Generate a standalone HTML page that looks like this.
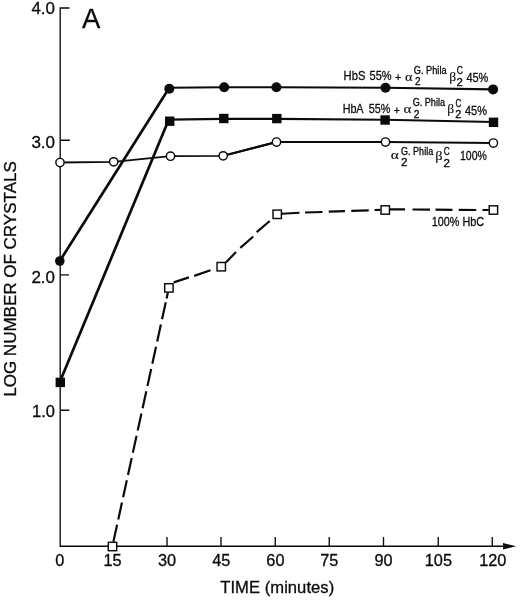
<!DOCTYPE html>
<html><head><meta charset="utf-8"><title>Figure A</title>
<style>
html,body{margin:0;padding:0;background:#fff;}
svg{display:block;}
text{font-family:"Liberation Sans",sans-serif;fill:#0b0b0b;stroke:#0b0b0b;stroke-width:0.3px;}
text.gk{font-family:"Liberation Serif","DejaVu Serif",serif;stroke-width:0.12px;}
</style></head><body>
<svg width="520" height="600" viewBox="0 0 520 600">
<rect width="520" height="600" fill="#fff"/>
<g stroke="#0b0b0b" stroke-width="1.35" fill="none">
<path d="M69.500 8H60.200V546.200H505"/>
<path d="M60 140.200H69.800M60 274.900H69M60 410.200H69.300"/>
<path d="M167 537V546.200M221 537V546.200M275.25 537V546.200M329.25 537V546.200M383.5 537V546.200M438.25 537V546.200M492.25 537V546.200"/>
</g>
<path d="M503 542.900L516.300 546.200L503 549.500Z" fill="#0b0b0b"/>
<g fill="none" stroke="#0b0b0b" stroke-linejoin="round">
<path d="M59.8 261L169.3 87.7" stroke-width="2.7"/>
<path d="M169.3 87.7L224.2 87.2L276.4 87.2L385.5 87.7L493.1 89.4" stroke-width="2.1"/>
<path d="M59.6 382.4L168.8 119.6" stroke-width="2.7"/>
<path d="M168.8 119.6L223.8 118.9L276.8 118.9L385.1 119.8L493.5 122" stroke-width="2.1"/>
<path d="M60 162.5L113.7 161.8L170.5 156.2L223.2 155.8L276.5 142L385.5 142L493.4 143" stroke-width="1.85"/>
<path d="M223.2 155.8L276.5 142" stroke-width="2.2"/>
</g>
<path fill="none" stroke="#0b0b0b" stroke-width="2.2" d="M167.90 292.50L166.59 298.50M165.76 302.30L162.04 319.30M160.89 324.55L157.17 341.55M156.03 346.80L152.31 363.80M151.16 369.05L147.44 386.05M146.30 391.30L142.58 408.30M141.43 413.55L137.71 430.55M136.57 435.80L132.85 452.80M131.70 458.05L127.98 475.05M126.84 480.30L123.12 497.30M121.97 502.55L118.25 519.55M117.11 524.80L113.40 541.75M173.70 282.40L188.90 277.40M194.20 275.90L210.50 270.20M225.90 262.50L236.00 252.10M240.30 247.80L253.30 236.50M256.70 232.20L269.70 221.00M281.75 213.75L299.50 212.75M305.00 212.50L322.50 212.00M328.75 211.70L345.00 211.20M351.25 210.80L368.75 210.30M374.50 210.00L380.50 209.80M390.00 209.30L405.00 209.40M412.50 209.50L430.00 209.60M435.50 209.70L452.50 209.80M458.75 209.90L476.25 210.00M482.50 210.00L488.75 210.00"/>
<g fill="#0b0b0b">
<circle cx="59.8" cy="261" r="4.8"/>
<circle cx="169.3" cy="88.8" r="5"/>
<circle cx="224.2" cy="87.2" r="5"/>
<circle cx="276.4" cy="87.2" r="5"/>
<circle cx="385.5" cy="87.7" r="5"/>
<circle cx="493.1" cy="89.4" r="5"/>
<rect x="55.6" y="377.7" width="9.400" height="9.400"/>
<rect x="165" y="116.5" width="9.400" height="9.400"/>
<rect x="219.1" y="113.8" width="9.400" height="9.400"/>
<rect x="272.1" y="113.9" width="9.400" height="9.400"/>
<rect x="380.4" y="115.3" width="9.400" height="9.400"/>
<rect x="488.8" y="117.6" width="9.400" height="9.400"/>
</g>
<g fill="#fff" stroke="#0b0b0b" stroke-width="1.45">
<circle cx="60" cy="162.5" r="4.15"/>
<circle cx="113.7" cy="161.8" r="4.15"/>
<circle cx="170.5" cy="156.2" r="4.15"/>
<circle cx="223.2" cy="155.8" r="4.15"/>
<circle cx="276.5" cy="142" r="4.15"/>
<circle cx="385.5" cy="142" r="4.15"/>
<circle cx="493.4" cy="143" r="4.15"/>
<rect x="108.3" y="542.3" width="8.400" height="8.400"/>
<rect x="164.7" y="283.7" width="8.400" height="8.400"/>
<rect x="217.05" y="262.5" width="8.400" height="8.400"/>
<rect x="273" y="210.1" width="8.400" height="8.400"/>
<rect x="381.05" y="205.8" width="8.400" height="8.400"/>
<rect x="489.2" y="205.8" width="8.400" height="8.400"/>
</g>
<g font-size="16.500" text-anchor="end">
<text x="55" y="13.9" textLength="23.6" lengthAdjust="spacingAndGlyphs">4.0</text>
<text x="55" y="148.3" textLength="23.6" lengthAdjust="spacingAndGlyphs">3.0</text>
<text x="55" y="282.7" textLength="23.6" lengthAdjust="spacingAndGlyphs">2.0</text>
<text x="55" y="417.1" textLength="22.9" lengthAdjust="spacingAndGlyphs">1.0</text>
</g>
<g font-size="16.300" text-anchor="middle">
<text x="59.8" y="565.600">0</text>
<text x="112.5" y="565.600">15</text>
<text x="167" y="565.600">30</text>
<text x="221.2" y="565.600">45</text>
<text x="275.4" y="565.600">60</text>
<text x="329.3" y="565.600">75</text>
<text x="383.5" y="565.600">90</text>
<text x="438.4" y="565.600">105</text>
<text x="492.8" y="565.600">120</text>
</g>
<text x="220.200" y="592.600" font-size="16.600" textLength="114" lengthAdjust="spacing">TIME (minutes)</text>
<text transform="translate(16.200 279) rotate(-90)" font-size="17" text-anchor="middle">LOG NUMBER OF CRYSTALS</text>
<text x="82" y="27.600" font-size="27.500">A</text>
<g>
<text x="343.60" y="80" font-size="13.2" textLength="21.81" lengthAdjust="spacingAndGlyphs">HbS</text>
<text x="369.56" y="80.3" font-size="13" textLength="22.06" lengthAdjust="spacingAndGlyphs">55%</text>
<text x="394.97" y="81" font-size="10.8" textLength="6.31" lengthAdjust="spacingAndGlyphs">+</text>
<text x="404.97" y="80.7" font-size="13.3" class="gk" textLength="7.53" lengthAdjust="spacingAndGlyphs">α</text>
<text x="414.90" y="85.4" font-size="10" textLength="5.56" lengthAdjust="spacingAndGlyphs">2</text>
<text x="413.84" y="74" font-size="10" textLength="32.72" lengthAdjust="spacingAndGlyphs">G. Phila</text>
<text x="449.18" y="80.9" font-size="13.5" class="gk" textLength="6.95" lengthAdjust="spacingAndGlyphs">β</text>
<text x="456.63" y="85.6" font-size="10" textLength="6.29" lengthAdjust="spacingAndGlyphs">2</text>
<text x="456.87" y="73.8" font-size="10" textLength="6.20" lengthAdjust="spacingAndGlyphs">C</text>
<text x="466.38" y="82" font-size="13" textLength="21.94" lengthAdjust="spacingAndGlyphs">45%</text>
</g>
<g>
<text x="342.64" y="112.7" font-size="13.2" textLength="20.91" lengthAdjust="spacingAndGlyphs">HbA</text>
<text x="368.77" y="113" font-size="13" textLength="21.65" lengthAdjust="spacingAndGlyphs">55%</text>
<text x="393.78" y="113.8" font-size="10.8" textLength="6.07" lengthAdjust="spacingAndGlyphs">+</text>
<text x="403.55" y="113.2" font-size="13.3" class="gk" textLength="7.86" lengthAdjust="spacingAndGlyphs">α</text>
<text x="413.69" y="118.3" font-size="10" textLength="5.68" lengthAdjust="spacingAndGlyphs">2</text>
<text x="412.64" y="106" font-size="10" textLength="32.42" lengthAdjust="spacingAndGlyphs">G. Phila</text>
<text x="447.38" y="113.2" font-size="13.5" class="gk" textLength="6.95" lengthAdjust="spacingAndGlyphs">β</text>
<text x="455.26" y="118.4" font-size="10" textLength="6.04" lengthAdjust="spacingAndGlyphs">2</text>
<text x="455.39" y="106.5" font-size="10" textLength="5.87" lengthAdjust="spacingAndGlyphs">C</text>
<text x="464.98" y="115" font-size="13" textLength="21.94" lengthAdjust="spacingAndGlyphs">45%</text>
</g>
<g>
<text x="390.84" y="159.4" font-size="13.3" class="gk" textLength="8.08" lengthAdjust="spacingAndGlyphs">α</text>
<text x="400.92" y="166.4" font-size="10" textLength="6.41" lengthAdjust="spacingAndGlyphs">2</text>
<text x="401.05" y="155" font-size="10" textLength="32.12" lengthAdjust="spacingAndGlyphs">G. Phila</text>
<text x="435.34" y="159.6" font-size="13.5" class="gk" textLength="7.32" lengthAdjust="spacingAndGlyphs">β</text>
<text x="443.62" y="166.6" font-size="10" textLength="6.41" lengthAdjust="spacingAndGlyphs">2</text>
<text x="443.79" y="155.2" font-size="10" textLength="5.98" lengthAdjust="spacingAndGlyphs">C</text>
<text x="459.97" y="160.1" font-size="13" textLength="26.85" lengthAdjust="spacingAndGlyphs">100%</text>
</g>
<g>
<text x="431.74" y="226.3" font-size="13" textLength="52.41" lengthAdjust="spacingAndGlyphs">100% HbC</text>
</g>
</svg>
</body></html>
